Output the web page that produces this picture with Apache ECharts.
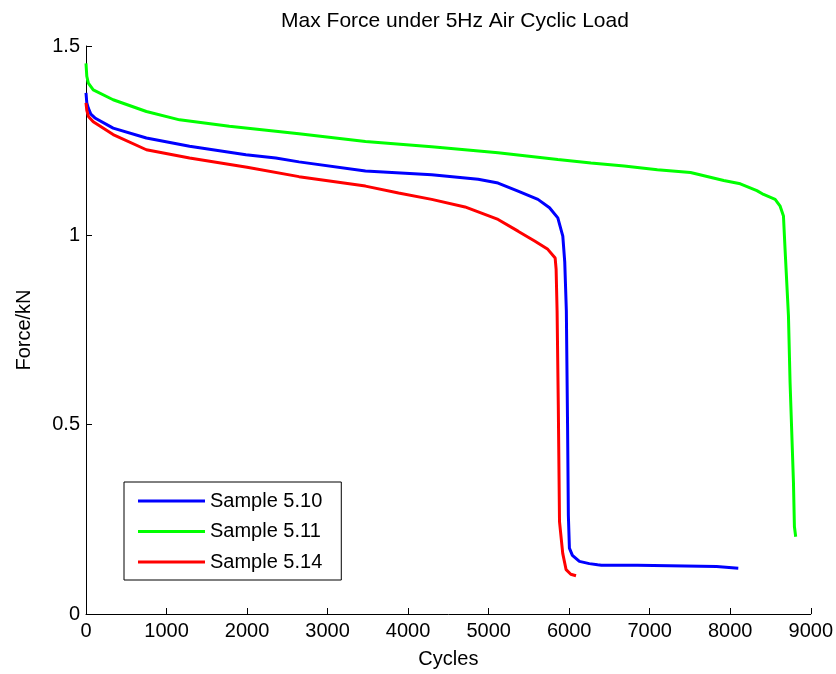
<!DOCTYPE html>
<html>
<head>
<meta charset="utf-8">
<script src="https://cdn.jsdelivr.net/npm/echarts@6/dist/echarts.min.js"></script>
<style>html,body{margin:0;padding:0;background:#fff}#c{width:836px;height:674px}</style>
</head>
<body>
<div id="c"></div>
<script>
// Sample 5.10 (blue)
const cyc510 = [0, 10, 29, 60, 111, 337, 750, 1286, 1986, 2357, 2645, 3470, 4293, 4870, 5117, 5365, 5612, 5756, 5859, 5921, 5945, 5965, 5980, 5990, 6003, 6040, 6127, 6250, 6353, 6400, 6848, 6870, 7830, 7850, 8100];
const force510 = [1.376, 1.35, 1.336, 1.32, 1.31, 1.283, 1.257, 1.235, 1.213, 1.204, 1.194, 1.17, 1.16, 1.148, 1.138, 1.117, 1.095, 1.073, 1.046, 0.998, 0.93, 0.8, 0.5, 0.26, 0.174, 0.155, 0.139, 0.133, 0.130, 0.129, 0.129, 0.1255, 0.1255, 0.121, 0.121];
// Sample 5.11 (green)
const cyc511 = [0, 10, 29, 90, 337, 750, 1162, 1780, 2357, 2645, 3470, 4293, 5117, 5859, 6271, 6683, 7095, 7507, 7919, 8125, 8331, 8414, 8558, 8620, 8661, 8681, 8723, 8743, 8785, 8797, 8813];
const force511 = [1.454, 1.42, 1.402, 1.384, 1.358, 1.327, 1.305, 1.288, 1.275, 1.268, 1.248, 1.234, 1.218, 1.2, 1.191, 1.183, 1.173, 1.166, 1.145, 1.136, 1.118, 1.108, 1.095, 1.077, 1.051, 0.963, 0.788, 0.612, 0.349, 0.231, 0.204];
// Sample 5.14 (red)
const cyc514 = [0, 10, 30, 90, 337, 750, 1286, 2000, 2645, 3470, 3881, 4293, 4706, 5117, 5365, 5571, 5735, 5826, 5838, 5850, 5865, 5880, 5920, 5962, 6020, 6085];
const force514 = [1.35, 1.33, 1.314, 1.30, 1.266, 1.226, 1.204, 1.18, 1.155, 1.13, 1.112, 1.095, 1.075, 1.042, 1.011, 0.985, 0.963, 0.94, 0.91, 0.8, 0.55, 0.244, 0.16, 0.117, 0.105, 0.101];

const seriesNames = ['Sample 5.10', 'Sample 5.11', 'Sample 5.14'];
const seriesColors = ['#0000ff', '#00ff00', '#ff0000'];
const xs = [cyc510, cyc511, cyc514];
const ys = [force510, force511, force514];

const font = 'Liberation Sans, Arial, Helvetica, sans-serif';
const chart = echarts.init(document.getElementById('c'));
chart.setOption({
  animation: false,
  backgroundColor: '#fff',
  title: {
    text: 'Max Force under 5Hz Air Cyclic Load',
    left: 450, textAlign: 'center', top: 6,
    textStyle: {fontFamily: font, fontSize: 21, fontWeight: 'normal', color: '#000'}
  },
  grid: {left: 86, right: 22, top: 46, bottom: 58},
  legend: {
    orient: 'vertical', left: 124, top: 482,
    backgroundColor: '#fff', borderColor: '#000', borderWidth: 1,
    padding: [8, 19, 7, 14],
    itemWidth: 67, itemHeight: 3, itemGap: 8.5, itemTextGap: 7,
    icon: 'rect',
    textStyle: {fontFamily: font, fontSize: 20, color: '#000', lineHeight: 22},
    data: seriesNames
  },
  xAxis: {
    type: 'value', min: 0, max: 9000, interval: 1000,
    name: 'Cycles', nameLocation: 'middle', nameGap: 35,
    nameTextStyle: {fontFamily: font, fontSize: 20, color: '#000'},
    axisLine: {show: true, lineStyle: {color: '#000', width: 1}},
    axisTick: {show: true, inside: true, length: 6, lineStyle: {color: '#000'}},
    axisLabel: {fontFamily: font, fontSize: 20, color: '#000', margin: 7, formatter: v => String(v)},
    splitLine: {show: false}
  },
  yAxis: {
    type: 'value', min: 0, max: 1.5, interval: 0.5,
    name: 'Force/kN', nameLocation: 'middle', nameGap: 52, nameRotate: 90,
    nameTextStyle: {fontFamily: font, fontSize: 20, color: '#000'},
    axisLine: {show: true, lineStyle: {color: '#000', width: 1}},
    axisTick: {show: true, inside: true, length: 6, lineStyle: {color: '#000'}},
    axisLabel: {fontFamily: font, fontSize: 20, color: '#000', margin: 6},
    splitLine: {show: false}
  },
  series: seriesNames.map((n, i) => ({
    name: n, type: 'line', showSymbol: false, symbol: 'none',
    lineStyle: {width: 3, color: seriesColors[i]},
    itemStyle: {color: seriesColors[i]},
    data: xs[i].map((x, j) => [x, ys[i][j]])
  }))
});
</script>
</body>
</html>
